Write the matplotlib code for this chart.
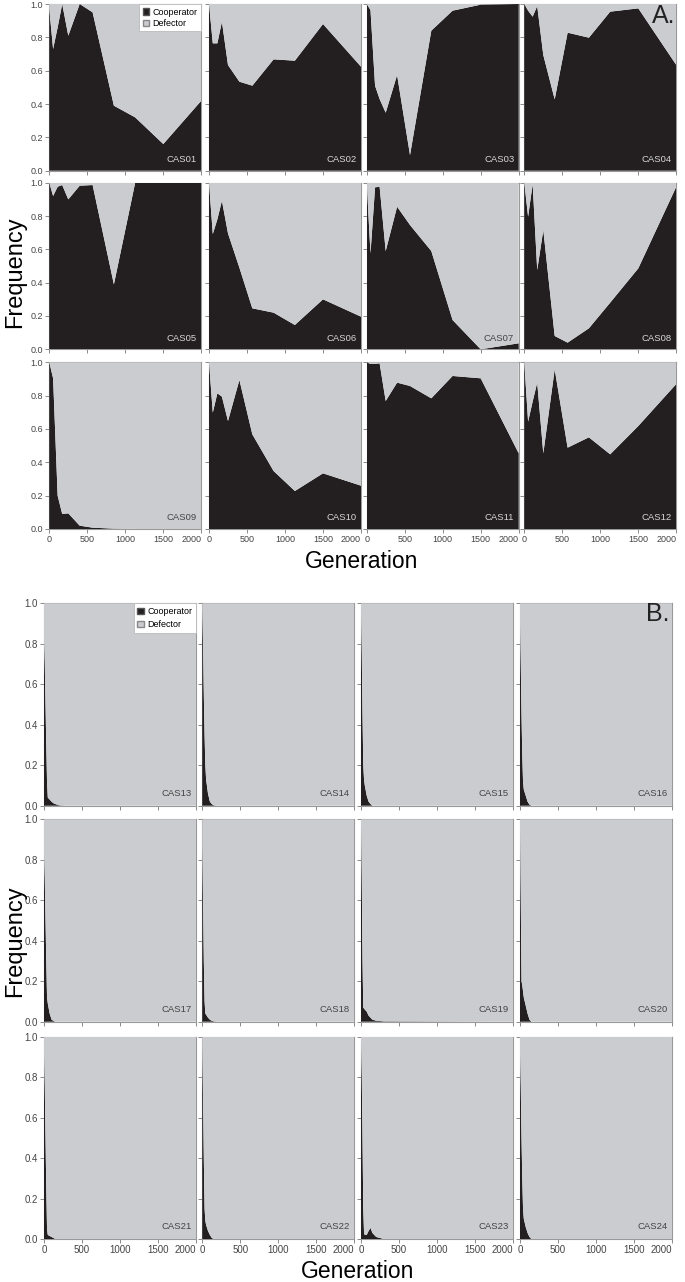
import matplotlib
matplotlib.use('Agg')
import matplotlib.pyplot as plt
from matplotlib.patches import Patch

plt.rcParams['font.family'] = ['Liberation Sans', 'DejaVu Sans']

# generations sampled in panel A and panel B
gens_a = [0, 50, 110, 170, 250, 400, 570, 850, 1130, 1500, 2000]
gens_b = [0, 10, 20, 30, 40, 50, 75, 100, 125, 150, 200, 300, 2000]

# cooperator frequency, panel A
cas01 = [0.97, 0.73, 0.86, 1.0, 0.81, 1.0, 0.95, 0.39, 0.32, 0.16, 0.42]
cas02 = [1.0, 0.764, 0.764, 0.894, 0.634, 0.534, 0.51, 0.668, 0.66, 0.88, 0.624]
cas03 = [1.0, 0.964, 0.51, 0.43, 0.348, 0.574, 0.094, 0.84, 0.96, 0.996, 1.0]
cas04 = [1.0, 0.96, 0.924, 0.988, 0.694, 0.428, 0.828, 0.798, 0.954, 0.974, 0.634]
cas05 = [1.0, 0.92, 0.976, 0.986, 0.90, 0.982, 0.986, 0.39, 1.0, 1.0, 1.0]
cas06 = [1.0, 0.692, 0.78, 0.892, 0.696, 0.49, 0.246, 0.22, 0.146, 0.30, 0.196]
cas07 = [1.0, 0.576, 0.972, 0.976, 0.59, 0.856, 0.746, 0.59, 0.176, 0.0, 0.036]
cas08 = [1.0, 0.796, 0.992, 0.476, 0.716, 0.08, 0.04, 0.126, 0.28, 0.486, 0.976]
cas09 = [1.0, 0.904, 0.2, 0.09, 0.094, 0.02, 0.008, 0.002, 0.0, 0.0, 0.0]
cas10 = [1.0, 0.698, 0.814, 0.794, 0.648, 0.894, 0.568, 0.348, 0.228, 0.334, 0.26]
cas11 = [1.0, 0.99, 0.99, 0.994, 0.768, 0.878, 0.858, 0.784, 0.918, 0.904, 0.454]
cas12 = [1.0, 0.644, 0.765, 0.878, 0.454, 0.958, 0.488, 0.55, 0.448, 0.618, 0.87]

# cooperator frequency, panel B
cas13 = [0.82, 0.7, 0.5, 0.3, 0.12, 0.04, 0.03, 0.02, 0.012, 0.008, 0.002, 0, 0]
cas14 = [0.97, 0.8, 0.55, 0.35, 0.2, 0.13, 0.06, 0.02, 0.008, 0.002, 0, 0, 0]
cas15 = [0.95, 0.75, 0.45, 0.2, 0.13, 0.1, 0.05, 0.02, 0.008, 0, 0, 0, 0]
cas16 = [0.9, 0.7, 0.45, 0.25, 0.12, 0.08, 0.05, 0.02, 0.005, 0, 0, 0, 0]
cas17 = [0.83, 0.7, 0.5, 0.3, 0.12, 0.09, 0.04, 0.01, 0.004, 0, 0, 0, 0]
cas18 = [0.88, 0.6, 0.3, 0.1, 0.04, 0.035, 0.02, 0.01, 0.004, 0.002, 0, 0, 0]
cas19 = [0.97, 0.7, 0.3, 0.07, 0.065, 0.06, 0.05, 0.03, 0.02, 0.01, 0.005, 0.002, 0]
cas20 = [0.95, 0.6, 0.2, 0.18, 0.15, 0.12, 0.08, 0.04, 0.01, 0, 0, 0, 0]
cas21 = [0.92, 0.75, 0.5, 0.25, 0.05, 0.02, 0.015, 0.01, 0.005, 0, 0, 0, 0]
cas22 = [0.95, 0.7, 0.4, 0.15, 0.09, 0.07, 0.04, 0.02, 0.005, 0, 0, 0, 0]
cas23 = [0.97, 0.8, 0.5, 0.15, 0.03, 0.02, 0.02, 0.04, 0.055, 0.03, 0.01, 0, 0]
cas24 = [0.92, 0.75, 0.5, 0.3, 0.15, 0.1, 0.06, 0.03, 0.01, 0, 0, 0, 0]

panel_a = [cas01, cas02, cas03, cas04, cas05, cas06, cas07, cas08, cas09, cas10, cas11, cas12]
panel_b = [cas13, cas14, cas15, cas16, cas17, cas18, cas19, cas20, cas21, cas22, cas23, cas24]

x_ticks = [0, 500, 1000, 1500, 2000]
y_ticks = [0.0, 0.2, 0.4, 0.6, 0.8, 1.0]

BLACK = '#231f20'
GREY = '#cbcccf'
W, H = 685.0, 1282.0

fig = plt.figure(figsize=(6.85, 12.82), dpi=100)


def px_axes(left, top, width, height):
    return fig.add_axes([left / W, 1 - (top + height) / H, width / W, height / H])


def draw_block(series, gens, lefts, rows, first_num, lab_size, leg_space):
    k = 0
    for r, (top, bot) in enumerate(rows):
        for c, left in enumerate(lefts):
            ax = px_axes(left, top, 152, bot - top)
            coop = series[k]
            defe = [1 - v for v in coop]
            ax.stackplot(gens, coop, defe, colors=[BLACK, GREY], linewidth=0, zorder=3)
            ax.set_xlim(0, 2000)
            ax.set_ylim(0, 1)
            ax.set_xticks(x_ticks)
            ax.set_yticks(y_ticks)
            ax.tick_params(length=3, width=0.6, color='#777777', labelsize=lab_size,
                           labelcolor='#444444', pad=1.5)
            if c != 0:
                ax.set_yticklabels([])
            else:
                ax.set_yticklabels(['%.1f' % v for v in y_ticks])
            if r != len(rows) - 1:
                ax.set_xticklabels([])
            else:
                ax.set_xticklabels([str(v) for v in x_ticks])
                ax.get_xticklabels()[-1].set_horizontalalignment('right')
            for s in ax.spines.values():
                s.set_color('#999999')
                s.set_linewidth(0.8)
            lab_col = '#d6d6d6' if coop[-1] > 0.1 else '#444444'
            ax.text(0.97, 0.04, 'CAS%02d' % (first_num + k), transform=ax.transAxes,
                    ha='right', va='bottom', fontsize=6.8, color=lab_col, zorder=5)
            if k == 0:
                handles = [Patch(facecolor=BLACK, edgecolor='#555555', label='Cooperator'),
                           Patch(facecolor=GREY, edgecolor='#888888', label='Defector')]
                lg = ax.legend(handles=handles, loc='upper right', fontsize=6.5,
                               handlelength=0.7, handleheight=0.7, handletextpad=0.4,
                               borderpad=0.4, labelspacing=leg_space, fancybox=False,
                               borderaxespad=0.0, framealpha=1)
                lg.get_frame().set_edgecolor('#bbbbbb')
                lg.get_frame().set_linewidth(0.6)
                lg.set_zorder(6)
            k += 1


draw_block(panel_a, gens_a, [49.3, 209, 366.7, 524.3],
           [(4, 170.7), (182.7, 349.3), (362.3, 529)], 1, 6.5, 0.25)
draw_block(panel_b, gens_b, [44, 202.3, 361, 520],
           [(603.3, 805.7), (819.3, 1021.7), (1037, 1239)], 13, 7, 0.5)

fig.text(15 / W, 1 - 272 / H, 'Frequency', rotation=90, ha='center', va='center', fontsize=17)
fig.text(15 / W, 1 - 941 / H, 'Frequency', rotation=90, ha='center', va='center', fontsize=17)
fig.text(362 / W, 1 - 561 / H, 'Generation', ha='center', va='center', fontsize=16.5)
fig.text(358 / W, 1 - 1272 / H, 'Generation', ha='center', va='center', fontsize=16.5)
fig.text(675 / W, 1 - 16 / H, 'A.', ha='right', va='center', fontsize=18, color='#222222')
fig.text(670 / W, 1 - 614 / H, 'B.', ha='right', va='center', fontsize=18, color='#222222')

fig.savefig('out.png', dpi=100, facecolor='white')
plt.close()
